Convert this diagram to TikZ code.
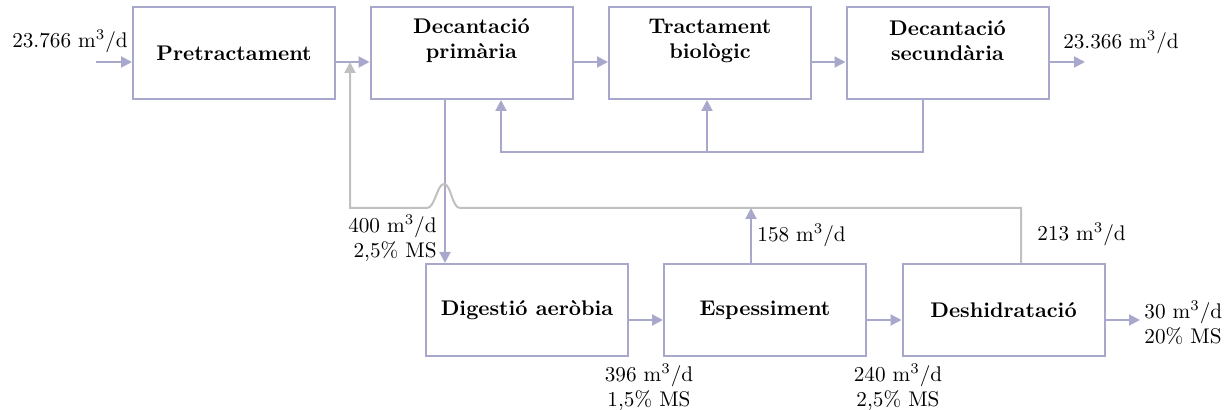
\documentclass[tikz,border=0pt]{standalone}
\usetikzlibrary{arrows.meta}
\definecolor{flowc}{RGB}{168,168,204}
\definecolor{retc}{RGB}{192,192,192}
\newcommand{\labelsize}{\fontsize{10.6}{12.5}\selectfont}
\tikzset{
  stage/.style={draw=flowc, line width=1pt, fill=white, inner sep=0pt,
                minimum width=101pt, minimum height=46pt, font=\labelsize\bfseries},
  title/.style={font=\labelsize\bfseries, align=center, inner sep=0pt},
  qty/.style={font=\labelsize, inner sep=0pt},
  flowline/.style={draw=flowc, line width=1pt},
  flowarrow/.style={flowline, -{Triangle[length=5.5pt,width=5.5pt]}},
  retarrow/.style={draw=retc, line width=1pt, -{Triangle[length=5.5pt,width=5.5pt]}},
}
\newcommand{\mcd}{m\textsuperscript{3}/d}
\begin{document}
\begin{tikzpicture}[x=0.5pt, y=-0.5pt]
\useasboundingbox (0,0) rectangle (1227,410);

% water line
\node[stage] (pre) at (234,53) {Pretractament};
\node[stage] (dp)  at (471.5,53) {};
\node[stage] (tb)  at (710,53) {};
\node[stage] (ds)  at (947.5,53) {};
\node[title] (dp-t) at (471.5,41) {Decantació\\primària};
\node[title] (tb-t) at (710,41) {Tractament\\biològic};
\node[title] (ds-t) at (947.5,41) {Decantació\\secundària};

% sludge line
\node[stage] (da)   at (527,310) {Digestió aeròbia};
\node[stage] (esp)  at (765,310) {Espessiment};
\node[stage] (desh) at (1003.5,310) {Deshidratació};

% reference heights of the horizontal flows
\coordinate (hi) at (0,62);
\coordinate (lo) at (0,320);

% influent and effluent
\coordinate (inflow) at (96,62);
\coordinate (effl) at (1085,62);
\draw[flowarrow] (inflow) -- (pre.west |- hi);
\draw[flowarrow] (pre.east |- hi) -- (dp.west |- hi);
\draw[flowarrow] (dp.east |- hi) -- (tb.west |- hi);
\draw[flowarrow] (tb.east |- hi) -- (ds.west |- hi);
\draw[flowarrow] (ds.east |- hi) -- (effl);

% sludge recirculation from the secondary settler
\coordinate (rcR) at (923,152);
\coordinate (rcM) at (707,152);
\coordinate (rcL) at (501,152);
\draw[flowarrow] (ds.south -| rcR) -- (rcR) -- (rcL) -- (dp.south -| rcL);
\draw[flowarrow] (rcM) -- (tb.south -| rcM);

% primary sludge to digestion
\coordinate (ps) at (445,0);
\draw[flowarrow] (dp.south -| ps) -- (da.north -| ps);

% sludge treatment chain
\coordinate (cake) at (1140,320);
\draw[flowarrow] (da.east |- lo) -- (esp.west |- lo);
\draw[flowarrow] (esp.east |- lo) -- (desh.west |- lo);
\draw[flowarrow] (desh.east |- lo) -- (cake);

% return of supernatant and filtrate to the head of the plant
\coordinate (rt) at (1021,208);
\coordinate (rl) at (350,208);
\coordinate (hopR) at (460,208);
\coordinate (hopT) at (444,184);
\coordinate (hopL) at (427,208);
\draw[retarrow] (desh.north -| rt) -- (rt) -- (hopR)
  .. controls (452,208) and (451,184) .. (hopT)
  .. controls (437,184) and (435,208) .. (hopL) -- (rl) -- (rl |- hi);
\coordinate (eo) at (751,208);
\draw[flowarrow] (esp.north -| eo) -- (eo);

% flow figures
\node[qty] (q-in)  at (70,41) {23.766 \mcd};
\node[qty] (q-out) at (1121,42) {23.366 \mcd};
\node[qty, align=right, anchor=east] (q-ps) at (437,238) {400 \mcd\\2,5\% MS};
\node[qty, anchor=west] (q-esp) at (757,235) {158 \mcd};
\node[qty, anchor=west] (q-desh) at (1037,234) {213 \mcd};
\node[qty, align=center] (q-da) at (649,387) {396 \mcd\\1,5\% MS};
\node[qty, align=center] (q-th) at (898,387) {240 \mcd\\2,5\% MS};
\node[qty, align=left, anchor=west] (q-cake) at (1144,323) {30 \mcd\\20\% MS};
\end{tikzpicture}
\end{document}
